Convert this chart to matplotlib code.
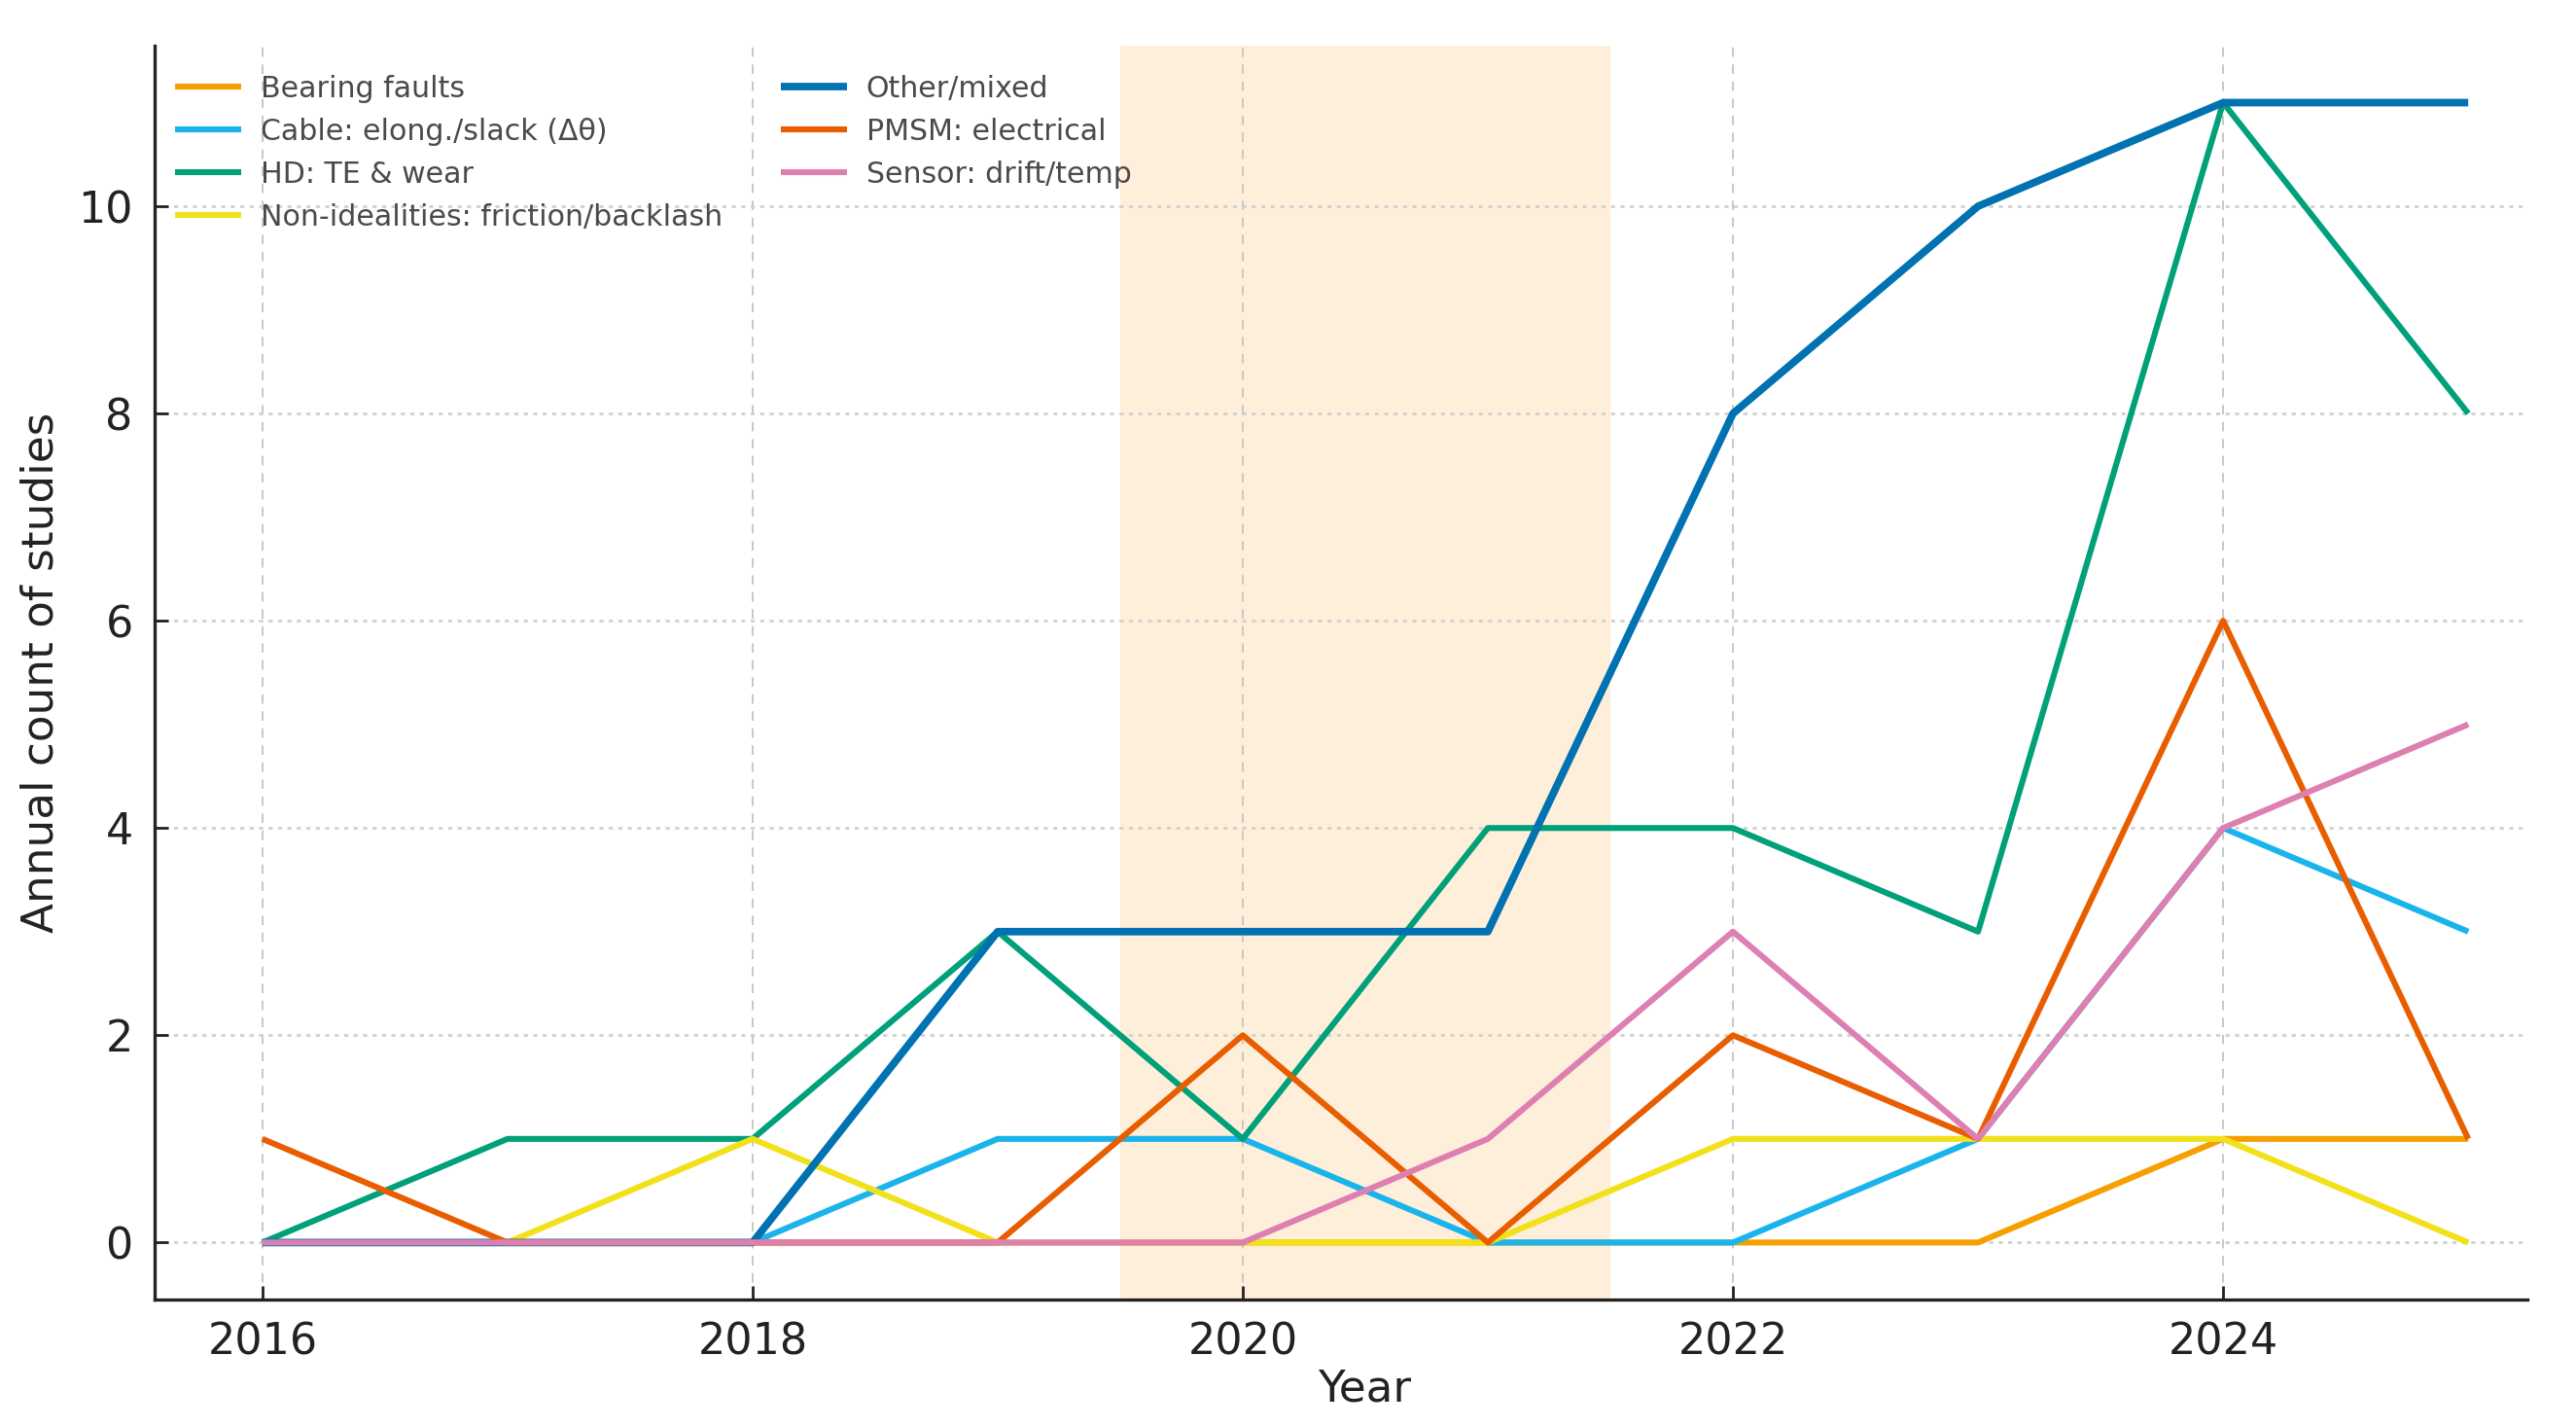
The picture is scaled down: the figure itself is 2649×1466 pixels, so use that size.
"""Annual count of studies per fault category, 2016-2025."""

import matplotlib
matplotlib.use("Agg")
import matplotlib.pyplot as plt

years = [2016, 2017, 2018, 2019, 2020, 2021, 2022, 2023, 2024, 2025]

bearing = [0, 0, 0, 0, 0, 0, 0, 0, 1, 1]
cable = [0, 0, 0, 1, 1, 0, 0, 1, 4, 3]
hd_wear = [0, 1, 1, 3, 1, 4, 4, 3, 11, 8]
non_ideal = [0, 0, 1, 0, 0, 0, 1, 1, 1, 0]
other = [0, 0, 0, 3, 3, 3, 8, 10, 11, 11]
pmsm = [1, 0, 0, 0, 2, 0, 2, 1, 6, 1]
sensor = [0, 0, 0, 0, 0, 1, 3, 1, 4, 5]

labels = [
    "Bearing faults",
    "Cable: elong./slack (Δθ)",
    "HD: TE & wear",
    "Non-idealities: friction/backlash",
    "Other/mixed",
    "PMSM: electrical",
    "Sensor: drift/temp",
]
series = [bearing, cable, hd_wear, non_ideal, other, pmsm, sensor]
colors = ["#F5A000", "#1AB4EC", "#00A07A", "#F2E11A", "#0072B2", "#E85D00", "#DE7FB2"]

fig = plt.figure(figsize=(13.245, 7.33), dpi=200)
ax = fig.add_axes([0.0600, 0.0887, 0.9210, 0.8793])

# highlighted period
ax.axvspan(2019.5, 2021.5, color="#FDEFD9", zorder=0, lw=0)

for vals, label, col in zip(series, labels, colors):
    lw = 2.8 if label == "Other/mixed" else 2.2
    ax.plot(years, vals, color=col, lw=lw, label=label, solid_capstyle="butt")

ax.set_xlim(2015.56, 2025.24)
ax.set_ylim(-0.55, 11.55)
ax.set_xticks([2016, 2018, 2020, 2022, 2024])
ax.set_yticks([0, 2, 4, 6, 8, 10])

ax.xaxis.grid(True, linestyle=(0, (5, 4)), linewidth=0.7, color="#C8C8C8", zorder=0.5)
ax.yaxis.grid(True, linestyle=(0, (1.5, 2)), linewidth=1.0, color="#D0D0D0", zorder=0.5)
ax.set_axisbelow(True)

for side in ("top", "right"):
    ax.spines[side].set_visible(False)
for side in ("left", "bottom"):
    ax.spines[side].set_linewidth(1.2)
    ax.spines[side].set_color("#222222")

ax.tick_params(direction="in", length=5, width=1.0, labelsize=16, colors="#222222", pad=8)
ax.set_xlabel("Year", fontsize=16.3, color="#222222", labelpad=2)
ax.xaxis.set_label_coords(0.51, -0.055)
ax.set_ylabel("Annual count of studies", fontsize=16.3, color="#222222", labelpad=6)

leg = ax.legend(
    ncol=2,
    loc="upper left",
    bbox_to_anchor=(-0.0035, 1.0),
    frameon=False,
    fontsize=10.8,
    handlelength=2.25,
    handletextpad=0.67,
    columnspacing=2.0,
    labelspacing=0.5,
    borderaxespad=0.6,
)
for txt in leg.get_texts():
    txt.set_color("#4A4A4A")

fig.savefig("out.png", dpi=200)
plt.close(fig)
